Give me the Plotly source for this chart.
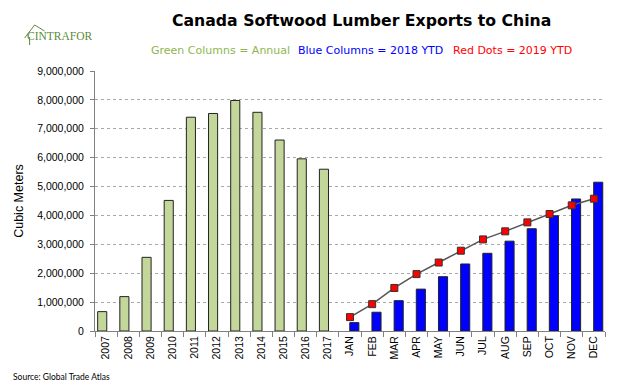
import plotly.graph_objects as go

years = ["2007", "2008", "2009", "2010", "2011", "2012", "2013", "2014", "2015", "2016", "2017"]
annual = [670000, 1190000, 2550000, 4520000, 7400000, 7530000, 7980000, 7570000, 6610000, 5960000, 5600000]
months = ["JAN", "FEB", "MAR", "APR", "MAY", "JUN", "JUL", "AUG", "SEP", "OCT", "NOV", "DEC"]
ytd_2018 = [290000, 650000, 1050000, 1450000, 1880000, 2320000, 2690000, 3110000, 3540000, 3990000, 4570000, 5150000]
ytd_2019 = [480000, 930000, 1490000, 1970000, 2370000, 2780000, 3170000, 3450000, 3760000, 4050000, 4350000, 4580000]
categories = years + months
y_ticks = [0, 1000000, 2000000, 3000000, 4000000, 5000000, 6000000, 7000000, 8000000, 9000000]

TICKFONT = dict(family="Liberation Sans", size=10.5, color="#000000")

# plot area in page pixels (the page body adds an 8px offset)
PL, PR, PT, PB = 94.5, 605.5, 71, 331
PW, PH = PR - PL, PB - PT


def px(x):
    return (x - PL) / PW


def py(y):
    return 1 + (PT - y) / PH


fig = go.Figure()
# clustered columns: annual series sits in the left half of each slot, 2018 in the right half
fig.add_trace(go.Bar(x=years, y=annual, width=0.41, offset=-0.38,
                     marker=dict(color="#C4D79B", line=dict(color="#222222", width=1))))
fig.add_trace(go.Bar(x=months, y=ytd_2018, width=0.41, offset=-0.01,
                     marker=dict(color="#0000FF", line=dict(color="#222222", width=1))))
fig.add_trace(go.Scatter(x=months, y=ytd_2019, mode="lines+markers",
                         line=dict(color="#555555", width=1.5),
                         marker=dict(symbol="square", size=7, color="#FF0000",
                                     line=dict(color="#333333", width=1))))

fig.update_layout(
    width=632, height=376,
    margin=dict(l=PL - 8, r=640 - PR, t=PT - 8, b=384 - PB),
    paper_bgcolor="white", plot_bgcolor="white",
    showlegend=False, barmode="overlay",
    font=dict(family="Liberation Sans", color="#000000", size=11),
)
fig.update_xaxes(type="category", categoryorder="array", categoryarray=categories,
                 range=[-0.5, len(categories) - 0.5], automargin=False,
                 tickangle=-90, tickfont=TICKFONT,
                 tickson="boundaries", ticks="outside", ticklen=5, tickcolor="#808080",
                 showline=True, linecolor="#808080", linewidth=1, showgrid=False)
fig.update_yaxes(range=[0, 9000000], tickvals=y_ticks, tickformat=",d",
                 tickfont=TICKFONT, automargin=False,
                 ticks="outside", ticklen=4, tickcolor="#808080", ticklabelstandoff=4,
                 showline=True, linecolor="#808080", linewidth=1,
                 showgrid=True, gridcolor="#A8A8A8", griddash="dot", gridwidth=1,
                 zeroline=False,
                 title=dict(text="Cubic Meters", font=dict(family="Liberation Sans", size=12.5), standoff=10))

fig.add_annotation(text="<b>Canada Softwood Lumber Exports to China</b>", xref="paper", yref="paper",
                   x=px(362), y=py(20), xanchor="center", yanchor="middle",
                   showarrow=False, font=dict(family="DejaVu Sans", size=15.7, color="#000000"))
subs = [("Green Columns = Annual", "#8FB64F", 149), ("Blue Columns = 2018 YTD", "#0000FF", 296),
        ("Red Dots = 2019 YTD", "#FF0000", 451)]
for txt, col, xpx in subs:
    fig.add_annotation(text=txt, xref="paper", yref="paper", x=px(xpx), y=py(50),
                       xanchor="left", yanchor="middle", showarrow=False,
                       font=dict(family="DejaVu Sans", size=11, color=col))
fig.add_annotation(text="Source: Global Trade Atlas", xref="paper", yref="paper",
                   x=px(10), y=py(377), xanchor="left", yanchor="middle",
                   showarrow=False, font=dict(family="Lato", size=8.5, color="#000000"))
fig.add_annotation(text="CINTRAFOR", xref="paper", yref="paper",
                   x=px(24), y=py(36), xanchor="left", yanchor="middle",
                   showarrow=False, font=dict(family="Liberation Serif", size=11.5, color="#5A8A3A"))
fig.add_shape(type="path", xref="paper", yref="paper",
              path="M %f %f L %f %f L %f %f" % (px(24), py(38), px(34), py(25), px(44), py(31)),
              line=dict(color="#5A8A3A", width=1))
fig.add_shape(type="line", xref="paper", yref="paper",
              x0=px(29), y0=py(37), x1=px(29), y1=py(45),
              line=dict(color="#5A8A3A", width=1))

fig.write_html("out.html")
